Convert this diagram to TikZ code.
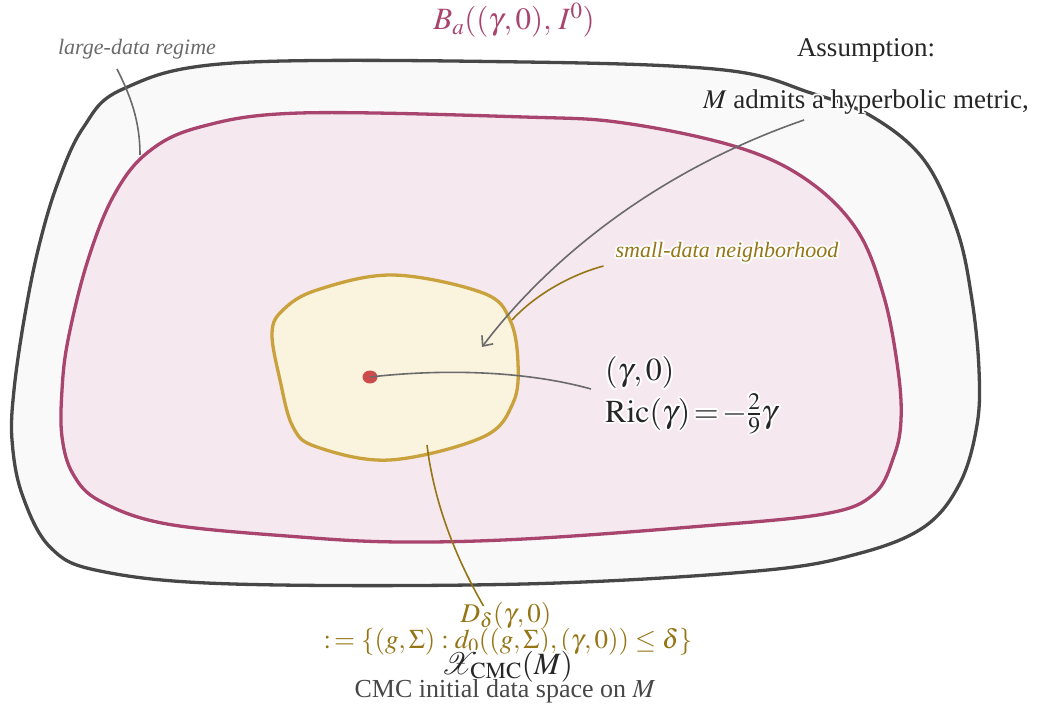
\documentclass[tikz,border=0pt]{standalone}
\usepackage{amsmath}
\usepackage{mathptmx}
\usepackage[no-math]{fontspec}
\setmainfont{Liberation Serif}
\usepackage[copies]{contour}
\contourlength{2pt}
\contournumber{12}
\usepackage{tikz}
\usetikzlibrary{arrows.meta,calc,shapes.geometric}
\definecolor{outline}{HTML}{474747}
\definecolor{outfill}{HTML}{F9F9F9}
\definecolor{ballline}{HTML}{A8446E}
\definecolor{ballfill}{HTML}{F5E8EF}
\definecolor{diskline}{HTML}{C9A23E}
\definecolor{diskfill}{HTML}{FAF3DD}
\definecolor{olive}{HTML}{957516}
\definecolor{leadgray}{HTML}{6A6A6A}
\definecolor{ink}{HTML}{262626}
\definecolor{ptred}{HTML}{CC4B4B}
\newcommand{\halo}[1]{\contour{white}{#1}}
\tikzset{
  blob/.style ={line width=3.3pt, line join=round},
  lead/.style ={draw=leadgray, line width=1.6pt},
  leado/.style={draw=olive, line width=1.6pt},
  txt/.style  ={inner sep=0pt, anchor=base},
  big/.style  ={font=\fontsize{32}{36}\selectfont},
  mid/.style  ={font=\fontsize{27}{31}\selectfont},
  sml/.style  ={font=\fontsize{22}{26}\selectfont\itshape},
}
\begin{document}
\begin{tikzpicture}[x=1pt,y=-1pt]
  \useasboundingbox (0,0) rectangle (1049,708);
  \draw[blob,draw=outline,fill=outfill] plot[smooth cycle,tension=0.6] coordinates {
    (233,63) (524,62) (724,70) (811,93) (871,116) (924,160) (957,230) (972,300)
    (979,370) (977,425) (960,483) (924,527) (857,554) (757,571) (524,584)
    (233,584) (100,571) (50,547) (22,494) (12,440) (14,390) (24,320) (38,250)
    (57,185) (83,128) (123,89)};
  \draw[blob,draw=ballline,fill=ballfill] plot[smooth cycle,tension=0.6] coordinates {
    (300,113) (524,117) (624,123) (737,147) (807,180) (857,230) (884,297)
    (898,370) (901,420) (894,456) (874,494) (824,514) (691,527) (524,539)
    (400,542) (300,537) (167,524) (100,501) (73,474) (62,437) (62,390)
    (68,340) (87,263) (113,197) (147,153) (200,127)};
  \draw[blob,draw=diskline,fill=diskfill] plot[smooth cycle,tension=0.6] coordinates {
    (393,275) (483,293) (510,320) (518,363) (513,403) (483,437) (390,460)
    (317,447) (293,427) (280,380) (272,333) (283,310) (317,290)};

  \node[txt,sml,text=leadgray] (large) at (137,55) {large-data regime};
  \node[txt,text=ballline,font=\fontsize{31}{35}\selectfont] (ball) at (514,30) {$B_a((\gamma,0),\, I^0)$};
  \node[txt,mid,text=ink] (assume) at (866,57) {Assumption:};
  \node[txt,mid,text=ink] (hyp) at (866,109) {\halo{$M$ admits a hyperbolic metric,}};
  \node[txt,sml,text=olive] (small) at (727,258) {\halo{small-data neighborhood}};
  \node[txt,big,text=ink,anchor=base west] (gam) at (605,381) {\halo{$(\gamma,0)$}};
  \node[txt,big,text=ink,anchor=base west] (ric) at (605,422) {\halo{$\mathrm{Ric}(\gamma)\!=\!-\frac{2}{9}\gamma$}};
  \node[ellipse,fill=ptred,inner sep=0pt,minimum width=15pt,minimum height=13pt] (pt) at (370,377) {};

  \node[txt,mid,text=olive] (disk) at (506,622) {$D_\delta(\gamma,0)$};
  \node[txt,mid,text=olive] (def) at (508,648) {$:\,=\{(g,\Sigma) : d_0((g,\Sigma),(\gamma,0))\le\delta\}$};
  \node[txt,text=ink,font=\fontsize{31}{35}\selectfont] (space) at (507,674) {\halo{$\mathcal{X}_{\mathrm{CMC}}(M)$}};
  \node[txt,text=outline,font=\fontsize{26}{30}\selectfont] (cmc) at (505,697) {CMC initial data space on $M$};

  \coordinate (ldtip) at (140,155);
  \coordinate (hyptip) at (482,347);
  \coordinate (smtip) at (512,320);
  \coordinate (dktop) at (427,445);
  \coordinate (gamend) at (591,389);
  \draw[lead] ($(large.base)+(-20,14)$) .. controls (130,95) and (140,120) .. (ldtip);
  \draw[lead,-{Straight Barb[length=8pt,width=14pt]}] ($(hyp.base)+(-62,11)$) .. controls (645,175) and (540,270) .. (hyptip);
  \draw[leado] ($(small.base west)+(-12,8)$) .. controls (570,275) and (535,295) .. (smtip);
  \draw[leado] (dktop) .. controls (435,510) and (460,565) .. ($(disk.base west)+(23,-16)$);
  \draw[lead] (pt.center) .. controls (450,368) and (530,372) .. (gamend);
\end{tikzpicture}
\end{document}
